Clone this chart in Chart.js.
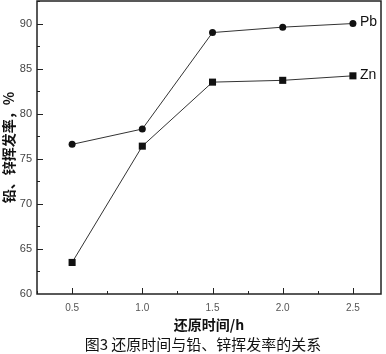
<!DOCTYPE html>
<html>
<head>
<meta charset="utf-8">
<script src="https://cdn.jsdelivr.net/npm/chart.js@4"></script>
<style>
  html, body { margin: 0; padding: 0; background: #fff; }
  .box { width: 386px; height: 354px; overflow: hidden; }
  #chart { display: block; margin-top: -4px; }
</style>
</head>
<body>
<div class="box"><canvas id="chart" width="386" height="358"></canvas></div>
<script>
"use strict";

const hours = [0.5, 1.0, 1.5, 2.0, 2.5];
const pbRate = [76.6, 78.3, 89.0, 89.6, 90.0];
const znRate = [63.5, 76.4, 83.5, 83.7, 84.2];
const xTicks = [0.5, 1.0, 1.5, 2.0, 2.5];
const yTicks = [60, 65, 70, 75, 80, 85, 90];
const caption = "图3 还原时间与铅、锌挥发率的关系";

const cjk = '"Noto Sans CJK SC", "Liberation Sans", sans-serif';
const latin = '"Liberation Sans", Arial, sans-serif';

// inward ticks, full frame, series names at line ends and the caption
const frame = {
    id: "frame",
    afterDraw(chart) {
        const ctx = chart.ctx;
        const a = chart.chartArea;
        const xs = chart.scales.x;
        const ys = chart.scales.y;
        ctx.save();
        ctx.strokeStyle = "#222";
        ctx.lineWidth = 1.5;
        ctx.strokeRect(a.left, a.top, a.right - a.left, a.bottom - a.top);
        ctx.lineWidth = 1;
        for (let v = 0.25; v <= 2.7; v += 0.25) {
            const px = Math.round(xs.getPixelForValue(v)) + 0.5;
            const major = Math.abs(v * 2 - Math.round(v * 2)) < 0.01;
            ctx.beginPath();
            ctx.moveTo(px, a.bottom);
            ctx.lineTo(px, a.bottom - (major ? 6 : 3));
            ctx.stroke();
        }
        for (let v = 62.5; v <= 92.5; v += 2.5) {
            const py = Math.round(ys.getPixelForValue(v)) + 0.5;
            const major = v % 5 === 0;
            ctx.beginPath();
            ctx.moveTo(a.left, py);
            ctx.lineTo(a.left + (major ? 6 : 3), py);
            ctx.stroke();
        }
        ctx.fillStyle = "#111";
        ctx.font = "14px " + latin;
        ctx.textBaseline = "middle";
        chart.data.datasets.forEach((ds, i) => {
            const pt = chart.getDatasetMeta(i).data[ds.data.length - 1];
            ctx.fillText(ds.label, pt.x + 7, pt.y - 1);
        });
        ctx.font = "15px " + cjk;
        ctx.textAlign = "center";
        ctx.fillText(caption, 203, chart.height - 10);
        ctx.restore();
    }
};

new Chart(document.getElementById("chart"), {
    type: "line",
    data: {
        datasets: [{
            label: "Pb",
            data: hours.map((h, i) => ({ x: h, y: pbRate[i] })),
            borderColor: "#333",
            borderWidth: 1,
            backgroundColor: "#111",
            pointStyle: "circle",
            pointRadius: 3.5,
            pointBorderWidth: 0
        }, {
            label: "Zn",
            data: hours.map((h, i) => ({ x: h, y: znRate[i] })),
            borderColor: "#333",
            borderWidth: 1,
            backgroundColor: "#111",
            pointStyle: "rect",
            pointRadius: 5,
            pointBorderWidth: 0
        }]
    },
    options: {
        responsive: false,
        animation: false,
        layout: { padding: { top: 1, right: 5, left: 0, bottom: 21 } },
        plugins: {
            legend: { display: false },
            tooltip: { enabled: false }
        },
        scales: {
            x: {
                type: "linear",
                min: 0.25,
                max: 2.7,
                afterBuildTicks(scale) {
                    scale.ticks = xTicks.map(v => ({ value: v }));
                },
                afterFit(scale) {
                    scale.height = 39;
                    scale.paddingLeft = 0;
                    scale.paddingRight = 0;
                },
                grid: { display: false, drawTicks: false },
                border: { display: false },
                ticks: {
                    padding: 8,
                    color: "#555",
                    font: { family: latin, size: 10 },
                    callback: v => v.toFixed(1)
                },
                title: {
                    display: true,
                    text: "还原时间/h",
                    color: "#111",
                    font: { family: cjk, size: 14, weight: "bold" },
                    padding: { top: 2, bottom: 0 }
                }
            },
            y: {
                min: 60,
                max: 92.5,
                afterBuildTicks(scale) {
                    scale.ticks = yTicks.map(v => ({ value: v }));
                },
                afterFit(scale) {
                    scale.width = 37;
                    scale.paddingTop = 0;
                    scale.paddingBottom = 0;
                },
                grid: { display: false, drawTicks: false },
                border: { display: false },
                ticks: {
                    padding: 5,
                    color: "#444",
                    font: { family: latin, size: 11 }
                },
                title: {
                    display: true,
                    text: "铅、锌挥发率，%",
                    color: "#111",
                    font: { family: cjk, size: 14, weight: "bold" },
                    padding: { top: 0, bottom: 2 }
                }
            }
        }
    },
    plugins: [frame]
});
</script>
</body>
</html>
